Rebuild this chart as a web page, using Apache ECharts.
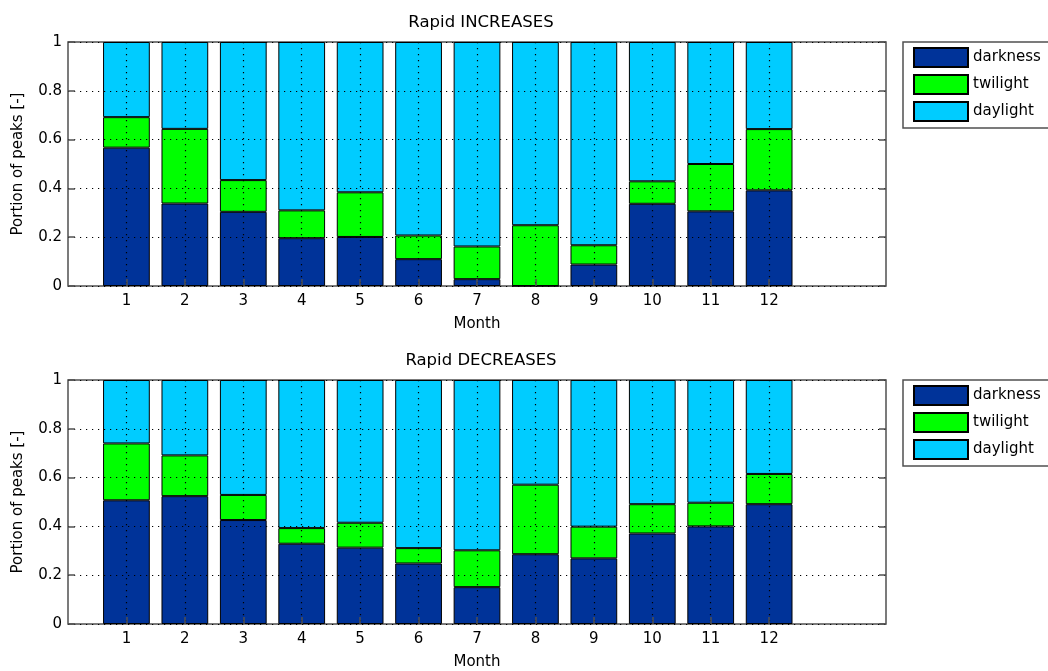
<!DOCTYPE html>
<html><head><meta charset="utf-8">
<script src="https://cdn.jsdelivr.net/npm/echarts@6/dist/echarts.min.js"></script>
<style>html,body{margin:0;padding:0;background:#fff}#c{width:1048px;height:671px}</style>
</head><body><div id="c"></div>
<script>
// ---- data ----
const months = ['1','2','3','4','5','6','7','8','9','10','11','12'];
const seriesNames = ['darkness','twilight','daylight'];
const titles = ['Rapid INCREASES','Rapid DECREASES'];
const yTicks = [0, 0.2, 0.4, 0.6, 0.8, 1];

const incDarkness = [0.567,0.338,0.304,0.196,0.201,0.110,0.028,0.000,0.088,0.337,0.306,0.392];
const incTwilight = [0.125,0.306,0.130,0.114,0.183,0.097,0.134,0.249,0.079,0.092,0.194,0.251];
const incDaylight = [0.308,0.356,0.566,0.690,0.616,0.793,0.838,0.751,0.833,0.571,0.500,0.357];

const decDarkness = [0.507,0.524,0.426,0.329,0.313,0.248,0.151,0.286,0.269,0.371,0.400,0.491];
const decTwilight = [0.233,0.167,0.103,0.064,0.102,0.063,0.151,0.285,0.130,0.120,0.097,0.124];
const decDaylight = [0.260,0.309,0.471,0.607,0.585,0.689,0.698,0.429,0.601,0.509,0.503,0.385];

// ---- build ----
const colors = ['#003399','#00ff00','#00ccff'];
const FONT = 'DejaVu Sans';
// axis spans 0..14; months sit at slots 1..12
const slots = ['0'].concat(months, ['13','14']);
const isMonth = (i) => i >= 1 && i <= 12;
const pad = (arr) => [null].concat(arr, [null, null]);

const panels = [
  {top: 42, height: 244, data: [incDarkness, incTwilight, incDaylight]},
  {top: 380, height: 245, data: [decDarkness, decTwilight, decDaylight]}
];

const option = {
  animation: false,
  backgroundColor: '#fff',
  textStyle: {fontFamily: FONT, color: '#000'},
  title: [], grid: [], xAxis: [], yAxis: [], legend: [], series: []
};

panels.forEach((p, g) => {
  option.title.push({
    text: titles[g], left: 476, top: p.top - 33, textAlign: 'center',
    textStyle: {fontFamily: FONT, fontSize: 16.5, fontWeight: 'normal', color: '#000'}
  });
  option.grid.push({
    left: 68, right: 162, top: p.top, height: p.height,
    show: true, borderColor: '#505050', borderWidth: 1.5, backgroundColor: 'transparent'
  });
  option.xAxis.push({
    type: 'category', gridIndex: g, data: slots, boundaryGap: false, z: 10,
    name: 'Month', nameLocation: 'middle', nameGap: 31,
    nameTextStyle: {fontFamily: FONT, fontSize: 15, color: '#000'},
    axisLine: {show: false},
    axisTick: {show: true, inside: true, length: 7, interval: (i) => isMonth(i), lineStyle: {color: '#505050', width: 1.5}},
    axisLabel: {interval: (i) => isMonth(i), fontFamily: FONT, fontSize: 15, color: '#000', margin: 8},
    splitLine: {show: true, interval: (i) => isMonth(i), lineStyle: {color: '#000', width: 1.2, type: [1.2, 4.8]}}
  });
  option.yAxis.push({
    type: 'value', gridIndex: g, min: yTicks[0], max: yTicks[yTicks.length - 1], interval: 0.2, z: 10,
    name: 'Portion of peaks [-]', nameLocation: 'middle', nameGap: 42,
    nameTextStyle: {fontFamily: FONT, fontSize: 15, color: '#000'},
    axisLine: {show: false},
    axisTick: {show: true, inside: true, length: 7, lineStyle: {color: '#505050', width: 1.5}},
    axisLabel: {fontFamily: FONT, fontSize: 15, color: '#000', margin: 6},
    splitLine: {show: true, lineStyle: {color: '#000', width: 1.2, type: [1.2, 4.8]}}
  });
  option.yAxis.push({
    type: 'value', gridIndex: g, position: 'right', min: 0, max: 1, interval: 0.2, z: 10,
    axisLine: {show: false},
    axisTick: {show: true, inside: true, length: 7, lineStyle: {color: '#505050', width: 1.5}},
    axisLabel: {show: false}, splitLine: {show: false}
  });
  option.legend.push({
    data: seriesNames, orient: 'vertical', left: 903, top: p.top,
    padding: [5, 40, 6, 10], itemGap: 6, itemWidth: 54, itemHeight: 19,
    icon: 'rect', borderColor: '#505050', borderWidth: 1.5, backgroundColor: '#fff',
    textStyle: {fontFamily: FONT, fontSize: 15, color: '#000'},
    selectedMode: false
  });
  seriesNames.forEach((n, k) => {
    option.series.push({
      name: n, type: 'bar', xAxisIndex: g, yAxisIndex: g * 2, stack: 's' + g,
      barWidth: '80%', data: pad(p.data[k]),
      itemStyle: {color: colors[k], borderColor: '#000', borderWidth: 1}
    });
  });
});

const chart = echarts.init(document.getElementById('c'), null, {renderer: 'canvas'});
chart.setOption(option);
</script>
</body></html>
